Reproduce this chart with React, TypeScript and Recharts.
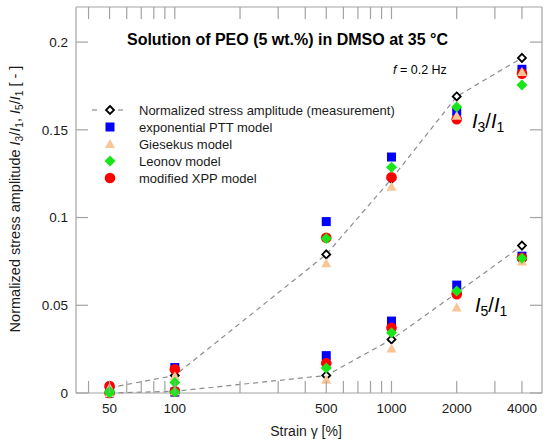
import React from 'react'
import { ComposedChart, Scatter, XAxis, YAxis, Legend } from 'recharts'

// strain amplitudes [%]
const strains = [50, 100, 500, 1000, 2000, 4000]

// measured I3/I1 and I5/I1
const measI3 = [0.003, 0.010, 0.079, 0.122, 0.169, 0.191]
const measI5 = [0.000, 0.001, 0.010, 0.0305, 0.057, 0.084]

// model predictions
const pttI3 = [0.002, 0.0145, 0.0977, 0.1345, 0.1605, 0.1845]
const pttI5 = [0.000, 0.0005, 0.0213, 0.041, 0.0615, 0.078]
const giesekusI3 = [0.003, 0.0095, 0.074, 0.1176, 0.158, 0.183]
const giesekusI5 = [0.000, 0.001, 0.0075, 0.0253, 0.0487, 0.0749]
const leonovI3 = [0.001, 0.006, 0.088, 0.1286, 0.163, 0.1755]
const leonovI5 = [0.000, 0.0005, 0.0142, 0.0343, 0.0582, 0.0768]
const xppI3 = [0.004, 0.0135, 0.0885, 0.123, 0.156, 0.182]
const xppI5 = [0.000, 0.001, 0.017, 0.0372, 0.0563, 0.077]

const xTicks = [40, 50, 60, 70, 80, 90, 100, 200, 300, 400, 500, 600, 700, 800, 900, 1000, 2000, 3000, 4000]
const xLabels = [50, 100, 500, 1000, 2000, 4000]
const yTicks = [0, 0.05, 0.1, 0.15, 0.2]

const FONT = '"Liberation Sans", Arial, sans-serif'
const FRAME = '#a3a3a3'
const TEXT = '#1a1a1a'

const MEAS_NAME = 'Normalized stress amplitude (measurement)'
const PTT_NAME = 'exponential PTT model'
const GIES_NAME = 'Giesekus model'
const LEONOV_NAME = 'Leonov model'
const XPP_NAME = 'modified XPP model'
const LEGEND_ORDER = [MEAS_NAME, PTT_NAME, GIES_NAME, LEONOV_NAME, XPP_NAME]

const toPoints = (ys: number[]) => strains.map((x, i) => ({ x, y: ys[i] }))
const both = (a: number[], b: number[]) => [...toPoints(a), ...toPoints(b)]

/* eslint-disable @typescript-eslint/no-explicit-any */
const OpenDiamond = ({ cx, cy }: any) => (
  <path d={`M${cx},${cy - 4}L${cx + 4},${cy}L${cx},${cy + 4}L${cx - 4},${cy}Z`} fill="#fff" stroke="#000" strokeWidth={1.8} />
)
const Square = ({ cx, cy }: any) => (
  <rect x={cx - 4.5} y={cy - 4.5} width={9} height={9} fill="#0000ff" />
)
const Triangle = ({ cx, cy }: any) => (
  <path d={`M${cx},${cy - 5}L${cx + 5},${cy + 4}L${cx - 5},${cy + 4}Z`} fill="#f9c596" />
)
const Diamond = ({ cx, cy }: any) => (
  <path d={`M${cx},${cy - 5.5}L${cx + 5.5},${cy}L${cx},${cy + 5.5}L${cx - 5.5},${cy}Z`} fill="#19e619" />
)
const Circle = ({ cx, cy }: any) => <circle cx={cx} cy={cy} r={5.3} fill="#ff0000" />
const Nothing = () => <g />

const SHAPES: Record<string, (p: any) => React.ReactElement> = {
  [MEAS_NAME]: OpenDiamond,
  [PTT_NAME]: Square,
  [GIES_NAME]: Triangle,
  [LEONOV_NAME]: Diamond,
  [XPP_NAME]: Circle,
}

const BottomTick = ({ x, y, payload }: any) => (
  <g>
    <line x1={x} x2={x} y1={y} y2={y - 12} stroke={FRAME} strokeWidth={1.2} />
    {xLabels.includes(payload.value) && (
      <text x={x} y={y + 20} textAnchor="middle" fontFamily={FONT} fontSize={13.5} fill={TEXT}>
        {payload.value}
      </text>
    )}
  </g>
)
const TopTick = ({ x, y }: any) => (
  <line x1={x} x2={x} y1={y} y2={y + 12} stroke={FRAME} strokeWidth={1.2} />
)
const LeftTick = ({ x, y, payload }: any) => (
  <g>
    <line x1={x} x2={x + 12} y1={y} y2={y} stroke={FRAME} strokeWidth={1.2} />
    <text x={x - 8} y={y} dy="0.36em" textAnchor="end" fontFamily={FONT} fontSize={13.5} fill={TEXT}>
      {String(payload.value)}
    </text>
  </g>
)
const RightTick = ({ x, y }: any) => (
  <line x1={x} x2={x - 12} y1={y} y2={y} stroke={FRAME} strokeWidth={1.2} />
)

function LegendBox({ payload }: any) {
  const items = [...(payload || [])]
    .filter((p: any) => LEGEND_ORDER.includes(p.value))
    .sort((a: any, b: any) => LEGEND_ORDER.indexOf(a.value) - LEGEND_ORDER.indexOf(b.value))
  return (
    <svg width={320} height={90} style={{ display: 'block' }}>
      {items.map((p: any, i: number) => {
        const cy = 10 + i * 17
        const Shape = SHAPES[p.value]
        return (
          <g key={p.value}>
            {p.value === MEAS_NAME && (
              <g stroke="#8c8c8c" strokeWidth={1.2}>
                <line x1={4} x2={9} y1={cy} y2={cy} />
                <line x1={30} x2={35} y1={cy} y2={cy} />
              </g>
            )}
            <Shape cx={22} cy={cy} />
            <text x={51} y={cy} dy="0.36em" fontFamily={FONT} fontSize={13} fill={TEXT}>
              {p.value}
            </text>
          </g>
        )
      })}
    </svg>
  )
}
/* eslint-enable @typescript-eslint/no-explicit-any */

// "In/I1" with lowered digits; the caller lifts the next run back by `shift`
const ratio = (n: string, size: number, lead = 0) => {
  const shift = size * 0.22
  return (
    <>
      <tspan fontStyle="italic" dy={lead}>I</tspan>
      <tspan dy={shift} fontSize={size * 0.7}>{n}</tspan>
      <tspan dy={-shift}>/</tspan>
      <tspan fontStyle="italic">I</tspan>
      <tspan dy={shift} fontSize={size * 0.7}>1</tspan>
    </>
  )
}

const lineStyle = { stroke: '#8c8c8c', strokeWidth: 1.2, strokeDasharray: '5 4' }

export default function App() {
  return (
    <div style={{ position: 'absolute', left: 0, top: 0, width: 550, height: 446, background: '#fff' }}>
      <ComposedChart width={550} height={446} margin={{ top: 0, right: 0, bottom: 0, left: 0 }}>
        <XAxis xAxisId="b" dataKey="x" type="number" scale="log" domain={[35, 4950]}
          ticks={xTicks} interval={0} tickSize={0} tickMargin={0} height={53}
          axisLine={{ stroke: FRAME, strokeWidth: 1.2 }} tickLine={false} tick={<BottomTick />} />
        <XAxis xAxisId="t" dataKey="x" orientation="top" type="number" scale="log" domain={[35, 4950]}
          ticks={xTicks} interval={0} tickSize={0} tickMargin={0} height={7}
          axisLine={{ stroke: FRAME, strokeWidth: 1.2 }} tickLine={false} tick={<TopTick />} />
        <YAxis yAxisId="l" dataKey="y" type="number" domain={[0, 0.22]} ticks={yTicks} interval={0}
          tickSize={0} tickMargin={0} width={76}
          axisLine={{ stroke: FRAME, strokeWidth: 1.2 }} tickLine={false} tick={<LeftTick />} />
        <YAxis yAxisId="r" dataKey="y" orientation="right" type="number" domain={[0, 0.22]} ticks={yTicks} interval={0}
          tickSize={0} tickMargin={0} width={8}
          axisLine={{ stroke: FRAME, strokeWidth: 1.2 }} tickLine={false} tick={<RightTick />} />

        {/* carries the top and right frame axes, draws no marks */}
        <Scatter name="frame" legendType="none" xAxisId="t" yAxisId="r" data={toPoints(measI3)}
          shape={Nothing} isAnimationActive={false} />

        <Scatter name={MEAS_NAME} xAxisId="b" yAxisId="l" data={toPoints(measI3)} shape={OpenDiamond}
          line={lineStyle} lineJointType="linear" fill="#fff" isAnimationActive={false} />
        <Scatter name="meas-I5" legendType="none" xAxisId="b" yAxisId="l" data={toPoints(measI5)} shape={OpenDiamond}
          line={lineStyle} lineJointType="linear" fill="#fff" isAnimationActive={false} />
        <Scatter name={PTT_NAME} xAxisId="b" yAxisId="l" data={both(pttI3, pttI5)} shape={Square}
          fill="#0000ff" isAnimationActive={false} />
        <Scatter name={XPP_NAME} xAxisId="b" yAxisId="l" data={both(xppI3, xppI5)} shape={Circle}
          fill="#ff0000" isAnimationActive={false} />
        <Scatter name={GIES_NAME} xAxisId="b" yAxisId="l" data={both(giesekusI3, giesekusI5)} shape={Triangle}
          fill="#f9c596" isAnimationActive={false} />
        <Scatter name={LEONOV_NAME} xAxisId="b" yAxisId="l" data={both(leonovI3, leonovI5)} shape={Diamond}
          fill="#19e619" isAnimationActive={false} />

        <Legend layout="vertical" align="center" verticalAlign="middle" content={<LegendBox />}
          wrapperStyle={{ left: 88, top: 100, width: 320, height: 90 }} />
      </ComposedChart>

      <svg width={550} height={446} style={{ position: 'absolute', left: 0, top: 0, pointerEvents: 'none' }}
        fontFamily={FONT} fill="#000">
        <text x={287.5} y={45} textAnchor="middle" fontSize={16} fontWeight="bold">
          Solution of PEO (5 wt.%) in DMSO at 35 °C
        </text>
        <text x={393} y={73.5} fontSize={12.5}>
          <tspan fontStyle="italic">f</tspan> = 0.2 Hz
        </text>
        <text x={472} y={128} fontSize={20}>{ratio('3', 20)}</text>
        <text x={475} y={312} fontSize={20}>{ratio('5', 20)}</text>
        <text x={306} y={436} textAnchor="middle" fontSize={14} fill={TEXT}>
          Strain γ [%]
        </text>
        <text transform="translate(20,199) rotate(-90)" textAnchor="middle" fontSize={14.5} fill={TEXT}>
          <tspan>Normalized stress amplitude </tspan>
          {ratio('3', 14.5)}
          <tspan dy={-14.5 * 0.22}>, </tspan>
          {ratio('5', 14.5)}
          <tspan dy={-14.5 * 0.22}> [ - ]</tspan>
        </text>
      </svg>
    </div>
  )
}
